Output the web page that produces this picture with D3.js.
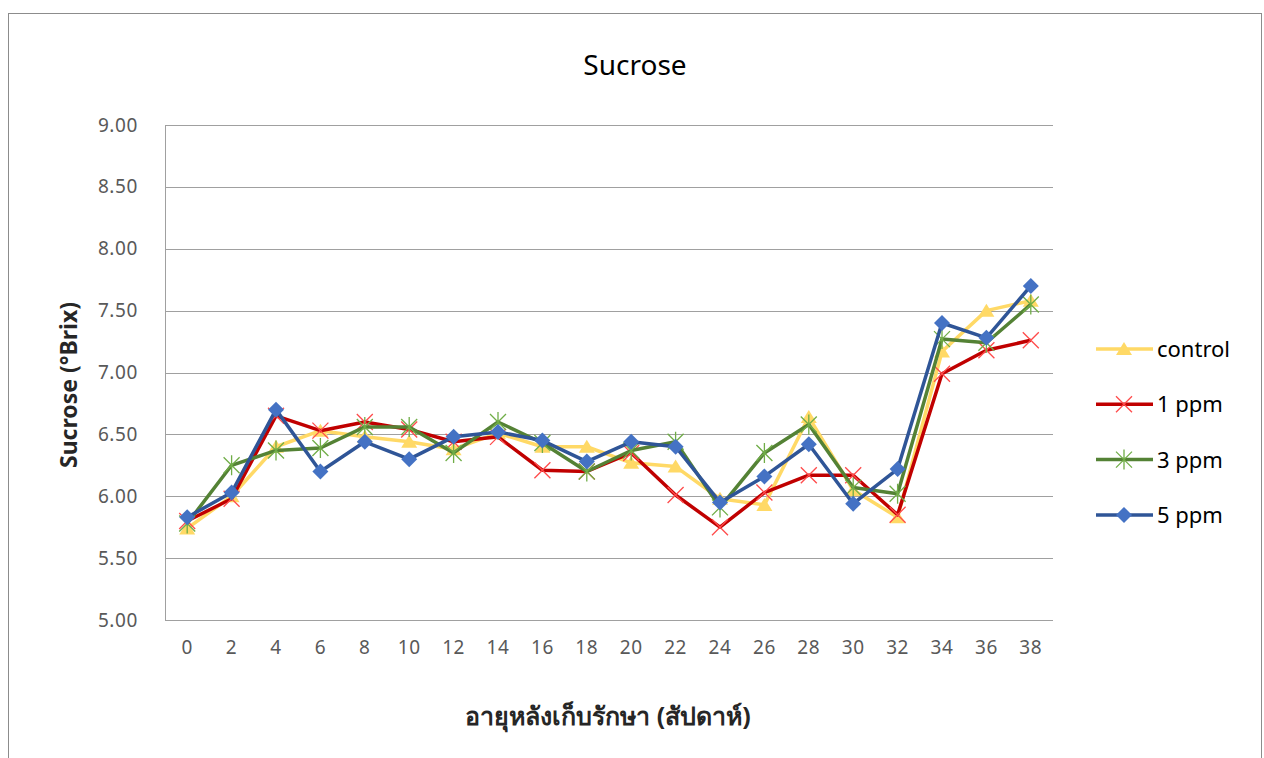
<!DOCTYPE html>
<html>
<head>
<meta charset="utf-8">
<script src="https://cdn.jsdelivr.net/npm/d3@7"></script>
<style>
  body { margin: 0; background: #fff; }
  svg { display: block; font-family: "Noto Sans", "Open Sans", sans-serif; }
</style>
</head>
<body>
<svg id="chart" width="1264" height="758"></svg>
<script>
// data
const weeks = [0, 2, 4, 6, 8, 10, 12, 14, 16, 18, 20, 22, 24, 26, 28, 30, 32, 34, 36, 38];
const yTicks = [5.0, 5.5, 6.0, 6.5, 7.0, 7.5, 8.0, 8.5, 9.0];
const seriesNames = ['control', '1 ppm', '3 ppm', '5 ppm'];

const control = [5.74, 6.00, 6.40, 6.53, 6.48, 6.44, 6.38, 6.51, 6.40, 6.40, 6.27, 6.24, 5.98, 5.93, 6.64, 6.05, 5.83, 7.17, 7.50, 7.58];
const ppm1    = [5.80, 5.98, 6.65, 6.53, 6.60, 6.54, 6.44, 6.48, 6.21, 6.20, 6.35, 6.01, 5.75, 6.03, 6.17, 6.17, 5.85, 6.99, 7.18, 7.26];
const ppm3    = [5.78, 6.25, 6.37, 6.39, 6.56, 6.56, 6.35, 6.60, 6.43, 6.20, 6.37, 6.44, 5.91, 6.35, 6.58, 6.07, 6.02, 7.27, 7.24, 7.55];
const ppm5    = [5.83, 6.03, 6.70, 6.20, 6.44, 6.30, 6.48, 6.52, 6.45, 6.28, 6.44, 6.40, 5.95, 6.16, 6.42, 5.94, 6.22, 7.40, 7.28, 7.70];

const series = [
  { name: seriesNames[0], values: control, line: '#ffd966', mark: '#ffd966', shape: 'triangle' },
  { name: seriesNames[1], values: ppm1,    line: '#c00000', mark: '#ff4b4b', shape: 'x' },
  { name: seriesNames[2], values: ppm3,    line: '#548235', mark: '#70ad47', shape: 'star' },
  { name: seriesNames[3], values: ppm5,    line: '#2f5597', mark: '#4472c4', shape: 'diamond' },
];

const svg = d3.select('#chart');

// outer chart frame
svg.append('rect')
  .attr('x', 8.5).attr('y', 13.5)
  .attr('width', 1253).attr('height', 760)
  .attr('fill', 'none').attr('stroke', '#8c8c8c');

const plot = { left: 165, right: 1053, top: 125, bottom: 620 };

const x = d3.scaleBand()
  .domain(weeks)
  .range([plot.left, plot.right]);

const y = d3.scaleLinear()
  .domain([5, 9])
  .range([plot.bottom, plot.top]);

// gridlines
svg.append('g')
  .selectAll('line')
  .data(yTicks)
  .join('line')
    .attr('x1', plot.left).attr('x2', plot.right)
    .attr('y1', d => Math.round(y(d)) + 0.5).attr('y2', d => Math.round(y(d)) + 0.5)
    .attr('stroke', '#a0a0a0').attr('stroke-width', 1);

// left axis line
svg.append('line')
  .attr('x1', plot.left + 0.5).attr('x2', plot.left + 0.5)
  .attr('y1', plot.top).attr('y2', plot.bottom + 0.5)
  .attr('stroke', '#a0a0a0');

// y tick labels
const yAxis = svg.append('g')
  .attr('transform', `translate(${plot.left},0)`)
  .call(d3.axisLeft(y).tickValues(yTicks).tickFormat(d3.format('.2f')).tickSize(0).tickPadding(27));
yAxis.select('.domain').remove();
yAxis.selectAll('text')
  .attr('font-size', 19).attr('fill', '#595959').attr('letter-spacing', 0.6)
  .attr('font-family', '"Noto Sans", sans-serif');

// x tick labels
const xAxis = svg.append('g')
  .attr('transform', `translate(0,${plot.bottom})`)
  .call(d3.axisBottom(x).tickSize(0).tickPadding(21));
xAxis.select('.domain').remove();
xAxis.selectAll('text')
  .attr('font-size', 19).attr('fill', '#595959').attr('letter-spacing', 0.6)
  .attr('font-family', '"Noto Sans", sans-serif');

// titles
svg.append('text')
  .attr('x', 635).attr('y', 75)
  .attr('text-anchor', 'middle')
  .attr('font-size', 28).attr('fill', '#000')
  .text('Sucrose');

svg.append('text')
  .attr('transform', 'translate(77,385) rotate(-90)')
  .attr('text-anchor', 'middle')
  .attr('font-size', 23).attr('font-weight', 'bold').attr('fill', '#262626')
  .text('Sucrose (°Brix)');

svg.append('text')
  .attr('x', 608).attr('y', 725)
  .attr('text-anchor', 'middle')
  .attr('font-size', 25).attr('font-weight', 'bold').attr('fill', '#262626')
  .text('อายุหลังเก็บรักษา (สัปดาห์)');

const cx = d => x(d) + x.bandwidth() / 2;

function drawMarker(g, shape, color) {
  if (shape === 'triangle') {
    g.append('path').attr('d', 'M0,-7L8,6L-8,6Z').attr('fill', color);
  } else if (shape === 'diamond') {
    g.append('path').attr('d', 'M0,-8L8,0L0,8L-8,0Z').attr('fill', color);
  } else if (shape === 'x') {
    g.append('path').attr('d', 'M-8,-8L8,8M-8,8L8,-8')
      .attr('stroke', color).attr('stroke-width', 1.3).attr('fill', 'none');
  } else if (shape === 'star') {
    g.append('path').attr('d', 'M-8,-8L8,8M-8,8L8,-8M0,-10L0,10')
      .attr('stroke', color).attr('stroke-width', 1.3).attr('fill', 'none');
  }
}

const line = d3.line()
  .x((d, i) => cx(weeks[i]))
  .y(d => y(d));

series.forEach(s => {
  const g = svg.append('g');
  g.append('path')
    .datum(s.values)
    .attr('d', line)
    .attr('fill', 'none')
    .attr('stroke', s.line)
    .attr('stroke-width', 3.5)
    .attr('stroke-linejoin', 'round');
  s.values.forEach((v, i) => {
    const m = g.append('g').attr('transform', `translate(${cx(weeks[i])},${y(v)})`);
    drawMarker(m, s.shape, s.mark);
  });
});

// legend
const legend = svg.append('g').attr('transform', 'translate(1096,349)');
series.forEach((s, i) => {
  const row = legend.append('g').attr('transform', `translate(0,${i * 55.3})`);
  row.append('line')
    .attr('x1', 0).attr('x2', 57).attr('y1', 0).attr('y2', 0)
    .attr('stroke', s.line).attr('stroke-width', 3.5);
  drawMarker(row.append('g').attr('transform', 'translate(28,0)'), s.shape, s.mark);
  row.append('text')
    .attr('x', 61).attr('y', 8)
    .attr('font-size', 22).attr('fill', '#000')
    .text(s.name);
});
</script>
</body>
</html>
